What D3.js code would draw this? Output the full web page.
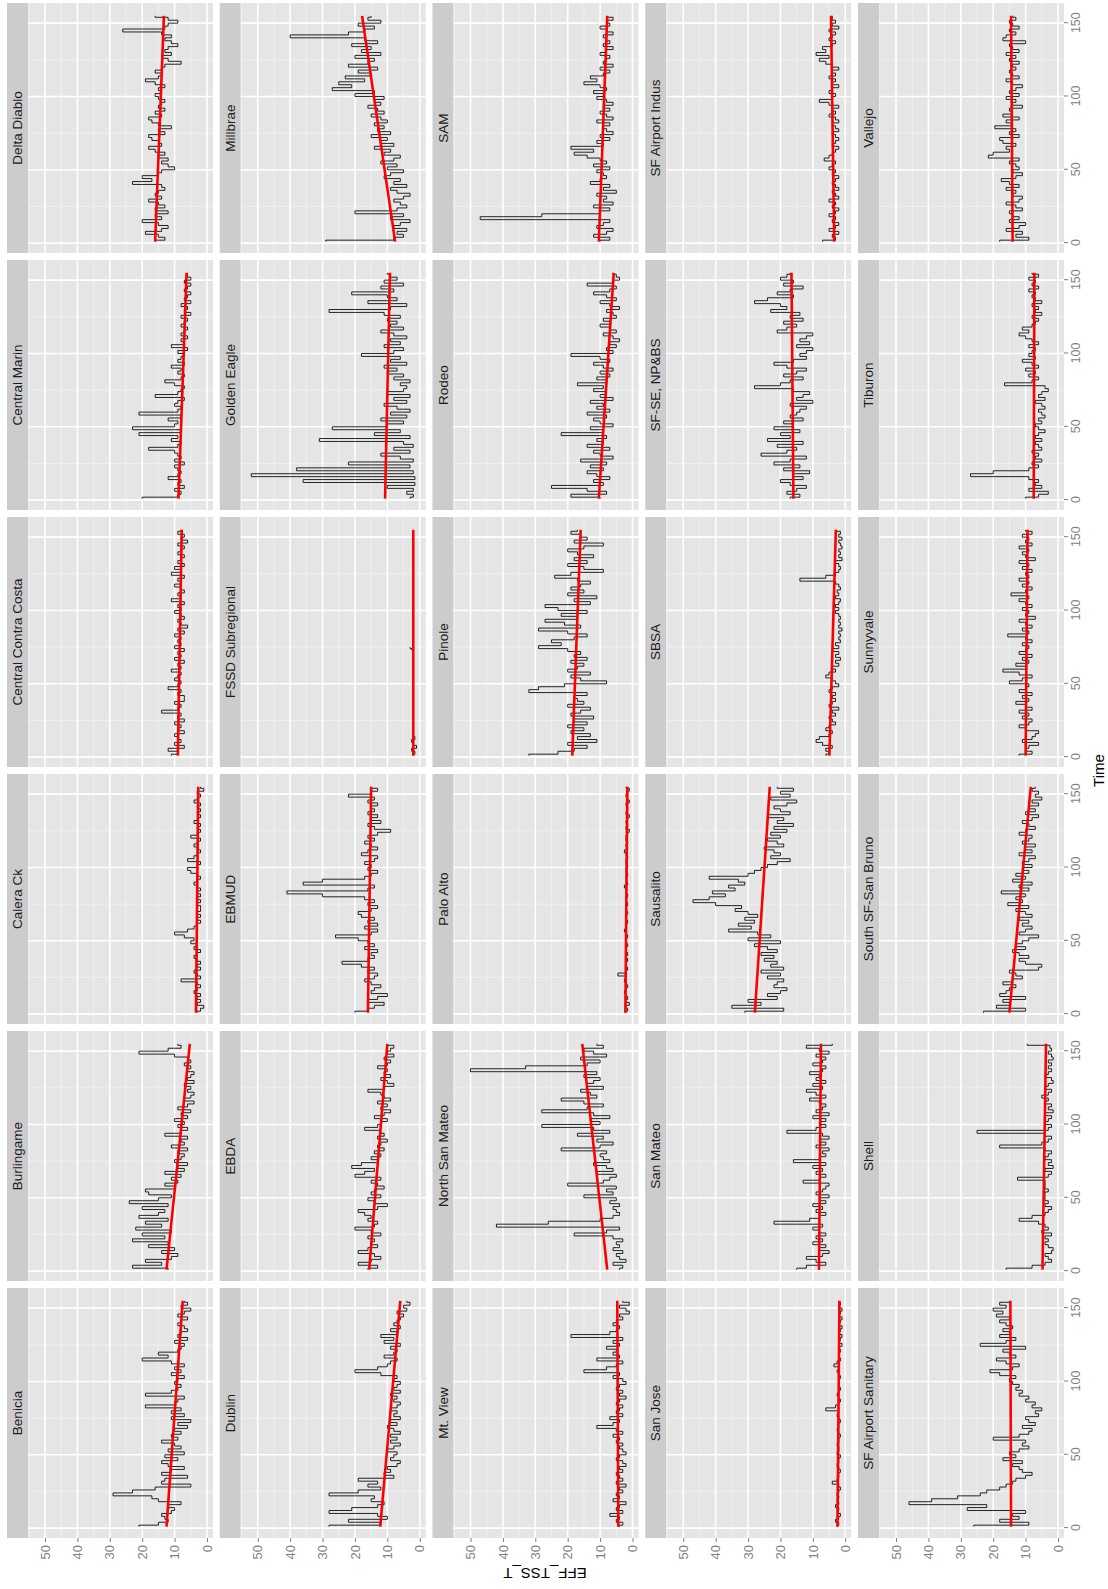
<!DOCTYPE html>
<html lang="en">

<head>
  <meta charset="UTF-8">
  <title>EFF_TSS_T over Time by plant</title>
  <script src="https://d3js.org/d3.v7.min.js"></script>
  <style>
    body {
      margin: 0;
      background: #fff;
      font-family: "Liberation Sans", Arial, sans-serif;
    }
  </style>
</head>

<body>
  <div id="chart"></div>

  <script>
    // facet names, in facet_wrap order (6 per row)
    const plants = ["Benicia", "Burlingame", "Calera Ck", "Central Contra Costa", "Central Marin", "Delta Diablo",
      "Dublin", "EBDA", "EBMUD", "FSSD Subregional", "Golden Eagle", "Millbrae",
      "Mt. View", "North San Mateo", "Palo Alto", "Pinole", "Rodeo", "SAM",
      "San Jose", "San Mateo", "Sausalito", "SBSA", "SF-SE, NP&BS", "SF Airport Indus",
      "SF Airport Sanitary", "Shell", "South SF-San Bruno", "Sunnyvale", "Tiburon", "Vallejo"];

    // sampling times, every second step from 1 to 155
    const times = d3.range(1, 156, 2);

    const xTicks = [0, 50, 100, 150];
    const yTicks = [0, 10, 20, 30, 40, 50];

    // EFF_TSS_T values
    const benicia = [21,15,12,13,14,11,10,12,8,15, 17,29,23,16,5,14,13,6,14,11, 7,12,14,9,13,7,12,8,10,14, 9,11,8,10,6,9,5,11,7,11,
      8,19,10,9,7,19,11,9,8,10, 9,7,11,8,10,7,11,20,12,15, 9,8,7,10,6,9,8,6,7,9, 8,6,9,7,5,8,6,7];
    const burlingame = [12,23,14,19,11,9,14,10,18,12, 23,13,20,11,22,14,19,12,21,15, 13,20,12,24,15,11,18,19,10,13, 9,11,8,13,7,9,6,10,8,7,
      9,6,11,7,8,6,13,8,6,9, 7,10,6,8,5,9,6,4,7,5, 4,6,5,7,4,6,5,4,6,5, 7,5,6,10,21,12,8,9];
    const caleraCk = [3,2,1,3,2,3,2,4,3,2, 3,8,2,3,4,2,3,2,3,4, 3,2,4,3,5,4,7,10,6,4, 3,2,3,2,3,2,2,3,2,3,
      2,3,2,3,4,3,2,3,5,6, 3,2,6,4,3,2,3,4,3,2, 5,3,2,3,2,4,3,2,3,2, 3,2,4,3,2,3,1,2];
    const centralContraCosta = [11,9,12,7,10,8,9,10,7,9, 8,10,7,9,8,14,9,8,10,7, 7,9,8,12,9,8,10,9,8,11, 8,9,7,10,8,9,7,10,8,9,
      8,10,7,9,6,8,9,7,8,10, 8,9,7,11,8,9,7,8,10,8, 9,7,11,8,10,7,9,8,7,9, 8,7,9,6,8,7,9,8];
    const centralMarin = [20,9,8,10,7,9,8,12,9,8, 9,10,7,10,8,9,10,18,9,8, 11,9,21,8,23,10,9,12,8,21, 9,8,10,9,7,16,9,8,7,10,
      13,8,7,9,8,11,7,9,8,7, 9,6,11,7,8,6,8,7,6,8, 7,6,8,5,7,6,8,5,7,6, 5,7,6,5,7,5,6,6];
    const deltaDiablo = [16,13,15,19,14,12,15,20,14,16, 12,16,13,15,18,14,16,15,13,14, 23,17,20,15,14,10,12,14,12,15, 13,16,18,14,15,17,18,13,15,11,
      15,17,18,14,16,13,15,14,13,15, 16,14,15,13,16,19,15,14,16,14, 13,8,12,14,11,13,12,9,11,13, 11,14,26,13,12,9,12,16];
    const dublin = [28,12,22,10,13,28,21,13,11,15, 14,28,19,12,16,13,19,8,11,9, 10,7,6,9,8,7,10,8,6,9, 7,9,6,8,10,7,9,6,8,7,
      9,7,6,8,7,9,6,8,7,6, 8,7,12,20,13,10,9,7,11,8, 7,9,6,11,8,12,7,9,6,8, 7,6,5,7,4,5,3,4];
    const ebda = [16,13,19,15,12,14,19,16,13,15, 14,16,12,15,20,14,13,16,15,17, 19,13,10,14,16,12,15,14,11,13, 15,12,20,17,14,21,18,13,15,12,
      14,11,13,12,10,13,11,12,17,13, 12,10,14,11,9,12,10,13,9,11, 12,16,11,8,10,12,9,11,10,13, 10,9,11,8,10,9,8,10];
    const ebmud = [20,16,14,11,16,13,10,15,14,12, 15,17,14,13,16,14,18,24,16,14, 15,13,17,14,16,19,26,15,13,17, 13,16,14,18,19,15,13,16,14,17,
      30,41,16,14,36,30,17,15,13,16, 15,17,14,13,18,16,13,15,17,14, 16,13,9,14,16,12,15,13,16,14, 15,13,16,14,22,15,13,15];
    const fssdSubregional = [2,1.5,2.5,1,2,2.5,1.5,2,null,null, null,null,null,null,null,null,null,null,null,null,
      null,null,null,null,null,null,null,null,null,null, null,null,null,null,null,null,2.5,3,null,null,
      null,null,null,null,null,null,null,null,null,null, null,null,null,null,null,null,null,null,null,null,
      null,null,null,null,null,null,null,null,null,null, null,null,null,null,null,null,null,null];
    const goldenEagle = [3,2,4,2,10,1.5,36,1.5,52,2, 38,3,22,2,6,12,3,8,2,5, 31,3,14,6,27,10,5,12,4,9, 3,7,11,4,8,3,10,5,4,6,
      3,8,5,10,7,11,4,9,6,18, 8,5,11,6,9,4,8,12,5,9, 7,10,6,11,28,9,4,16,7,10, 21,8,12,5,11,7,9,10];
    const millbrae = [29,8,5,7,4,8,6,3,9,5, 20,7,4,6,8,5,3,7,9,4, 8,6,11,9,5,10,7,12,8,6, 11,9,14,8,12,10,15,9,13,11,
      14,10,12,15,11,13,16,12,14,11, 20,14,27,21,25,17,23,15,19,13, 22,16,14,20,12,18,15,21,13,17, 40,22,17,14,19,12,16,15];
    const mtView = [4,3,5,4,7,3,5,4,2,6, 4,5,3,4,2,5,3,4,5,3, 4,2,3,5,4,2,3,4,3,5, 4,6,3,5,11,6,4,7,3,5,
      4,3,5,4,2,4,3,5,4,2, 3,6,4,15,8,5,3,11,4,6, 5,8,4,6,3,19,7,5,4,6, 5,3,4,1,2,4,1,3];
    const northSanMateo = [4,3,6,2,4,5,3,6,4,5, 3,6,18,8,4,42,26,10,6,4, 5,6,4,7,5,15,6,8,5,20, 9,7,5,11,6,8,12,7,9,10,
      8,22,10,6,11,9,17,7,12,28, 10,13,7,12,28,14,9,15,22,11, 13,16,9,14,12,10,15,11,50,33, 14,10,16,8,12,15,9,11];
    const paloAlto = [2,1.5,2,1,2,1.5,2,2.5,2,1.5, 2,2.5,2,4.5,2,1.5,2,2,1.5,2, 1.5,2,2,1.5,2,2,1.5,2,2.5,2, 2,1.5,2,2,1.5,2,2,1.5,2,2,
      1.5,2,2,2.5,1.5,2,2,1.5,2,2, 1.5,2,2,1.5,2,2.5,1.5,2,1.5,2, 2,1.5,1,2,1.5,2,1.5,1,2,1.5, 1.5,2,1,1.5,2,1.5,1,2];
    const pinole = [32,23,18,14,20,11,17,13,19,15, 20,14,18,12,19,16,13,20,15,17, 18,14,32,29,21,8,16,19,13,20, 17,15,19,14,18,16,20,29,22,25,
      18,14,20,29,16,21,27,17,22,14, 23,27,13,18,11,20,15,19,16,13, 17,24,19,9,15,20,14,18,12,17, 20,15,9,18,14,16,19,17];
    const rodeo = [10,19,8,14,25,9,12,7,11,14, 9,13,8,16,6,10,12,7,14,9, 11,8,22,9,13,6,10,12,8,14, 7,11,9,13,6,10,8,12,9,17,
      8,11,7,10,6,9,12,7,10,19, 6,8,5,7,4,6,9,5,7,10, 7,9,5,6,8,4,7,10,5,8, 12,7,5,14,6,4,5,6];
    const sam = [10,7,12,8,6,11,9,7,47,28, 10,7,12,6,9,8,11,5,9,7, 13,10,8,9,11,7,12,8,10,14, 18,12,19,9,11,7,10,6,8,9,
      7,11,6,8,10,7,9,6,8,11, 9,12,8,10,15,11,13,9,7,10, 6,9,8,7,10,8,6,9,7,8, 9,6,8,10,7,8,6,8];
    const sanJose = [2.5,2,3,2,1.5,2.5,2,3,2,2.5, 2,2.5,2,1.5,2,4,2.5,2,2,1.5, 2,2.5,2,2,1.5,2.5,2,2,2.5,2, 2,1.5,2,2.5,2,2,1.5,2,2.5,2,
      6,3,2,1.5,2,2.5,2,1.5,2,2, 2,1.5,2,2.5,2,3.5,2.5,1.5,2,2, 1.5,2,1,2,1.5,1,2,1.5,1,2, 1.5,1,2,1.5,1,2,1.5,2];
    const sanMateo = [15,12,6,9,12,7,5,8,6,10, 7,9,6,8,10,7,22,11,8,6, 9,7,10,6,8,5,9,7,6,5, 13,8,6,9,7,10,6,16,8,6,
      7,5,9,6,8,5,7,18,9,6, 8,6,10,5,9,7,6,8,11,6, 9,12,7,10,6,9,8,11,7,6, 10,7,6,9,5,8,12,4];
    const sausalito = [31,19,35,26,30,21,24,20,18,22, 21,19,24,20,26,19,23,21,25,22, 26,21,24,28,20,30,23,27,36,29, 33,28,31,27,30,34,32,40,47,42,
      37,41,34,36,31,33,42,30,28,26, 24,21,17,23,20,22,25,19,21,24, 20,23,18,22,16,21,19,24,17,20, 22,18,15,23,17,20,16,21];
    const sbsa = [6,5,6,4,7,9,8,5,4,6, 5,3,4,5,3,4,2,5,4,3, 4,3,5,4,2,3,4,6,5,3, 4,2,3,1.5,3,2,4,2,3,1.5,
      2,1.5,2,1,2,1.5,2,1.5,2,3, 2,3,2,1.5,3,2,2.5,1.5,2,3, 14,6,3,2,1.5,2,3,1,2,1.5, 2,1,1.5,2,1,2,1.5,3];
    const sfSeNpbs = [17,14,18,15,12,17,20,13,16,11, 19,14,22,17,12,26,18,15,21,13, 24,17,20,14,22,16,19,13,17,15, 14,12,17,10,15,13,11,16,28,20,
      17,13,19,15,12,18,22,16,12,14, 12,10,15,11,14,12,10,21,18,15, 19,13,17,14,23,18,20,28,24,16, 21,17,13,19,16,20,18,17];
    const sfAirportIndus = [7,3,4,2,5,3,2,4,3,5, 3,2,4,3,5,2,3,4,2,3, 4,3,2,4,3,5,4,3,6.5,5, 4,3,2,4,3,2,3,4,2,3,
      4,2,3,5,3,4,2,5,8,4, 3,5,4,2,4,3,5,3,4,2, 4,6,8,5,9,6,7,4,3,5, 4,3,5,2,4,3,4,4];
    const sfAirportSanitary = [26,9,18,12,14,10,28,22,46,39, 31,24,22,18,16,14,13,10,8,11, 12,14,11,17,13,15,12,9,11,10, 20,12,9,8,11,7,9,10,6,7,
      5,8,7,10,9,12,11,13,12,14, 15,13,18,21,14,12,16,19,13,15, 17,10,24,16,13,18,15,17,14,16, 18,15,19,17,20,16,18,15];
    const shell = [16,8,4,2,3,4,2,1.5,3,4, 3,4,2,5,3,4,6,12,8,4, 3,2,4,3,4,4,4,3,4,4, 4,12.5,3,2,4,1.5,3,2,4,3,
      2,4,18,5,3,2,4,25,3,2, 4,3,2,4,1.5,3,2,4,3,5, 3,2,4,3,1.5,2,4,3,2,3, 2,3,1.5,2,3,2,2.5,9.5];
    const southSfSanBruno = [23,10,19,15,17,10,18,16,15,13, 17,14,11,13,15,6,5,10,12,9, 12,14,10,13,11,9,6,12,10,8, 11,9,12,8,10,13,9,15.5,11,13,
      10,17.5,9,12,8,14,10,13,9,11, 8,11,9,7,12,8,10,7,11,9, 8,12,10,7,9,11,8,6,10,7, 9,6,8,5,7,6,8,7];
    const sunnyvale = [12,8,10,9,6,11,8,7,6,10, 12,9,8,11,9,12,8,10,13,9, 11,8,12,10,9,15,11,8,12,17, 10,13,9,11,8,12,10,9,11,8,
      10,15.5,9,11,8,10,12,7,10,9, 11,8,10,12,9,14.5,10,8,11,9, 12,9,10,8,11,9,12,7,10,11, 9,12,8,10,9,11,8,10];
    const tiburon = [10,6,3,9,5,7,6,9,27,20, 9,6,8,5,7,6,8,5,6,7, 5,7,6,4,6,7,5,6,4,5, 6,4,5,7,4,6,5,3,4,16.5,
      8,6,9,7,10,6,8,11,7,9, 8,7,9,6,8,10,12,9,11,8, 7,6,8,5,7,6,8,5,7,8, 7,9,6,8,7,9,6,8];
    const vallejo = [18,9,13,11,16,12,10,15,12,14, 15,11,13,16,12,11,14,13,16,12, 15,17.5,13,11,14,12,13,15,12,21.5, 20,15,16,13,17,18,12,15,13,19.5,
      14,16,12,17,14,15,11,14,13,16, 12,15,13,11,14,16,12,14,15,13, 14,12,15,13,16,12,14,15,10,17, 16,13,15,12,14,15,13,14];

    // linear trend (red line), value at the first and last time
    const trendStart = [12.5, 12.5, 3.4, 9, 8.8, 16, 12.2, 15.6, 16, 2, 10.7, 7.6, 4.4, 7.8, 2.2,
      18.6, 10.4, 10.4, 2.4, 8.1, 27.9, 4.9, 16, 3.4, 14.5, 4.8, 15, 10, 7.5, 14];
    const trendEnd = [7.5, 5.3, 2.7, 7.8, 6.3, 13.3, 6, 10, 15, 2, 9.2, 17.8, 4.7, 15.5, 1.6,
      16, 5.8, 7.8, 1.8, 7.5, 23.3, 2.9, 16.6, 4.4, 14.7, 3.7, 8.4, 9.4, 7.3, 14.5];

    const series = [benicia, burlingame, caleraCk, centralContraCosta, centralMarin, deltaDiablo,
      dublin, ebda, ebmud, fssdSubregional, goldenEagle, millbrae,
      mtView, northSanMateo, paloAlto, pinole, rodeo, sam,
      sanJose, sanMateo, sausalito, sbsa, sfSeNpbs, sfAirportIndus,
      sfAirportSanitary, shell, southSfSanBruno, sunnyvale, tiburon, vallejo];

    const width = 1108, height = 1589;

    const svg = d3.select("#chart").append("svg")
      .attr("width", width)
      .attr("height", height);

    svg.append("rect").attr("width", width).attr("height", height).attr("fill", "#fff");

    // the plot is laid out landscape (1589 x 1108) and turned a quarter to the left
    const g = svg.append("g").attr("transform", `translate(0,${height}) rotate(-90)`);

    const ncol = 6;
    const panelW = 250, panelH = 185, stripH = 21;
    const colX = c => 51 + c * 257;
    const rowY = r => 7 + r * 212.75;

    const tMin = d3.min(times), tMax = 156;
    const pad = (tMax - tMin) * 0.05;
    const x = d3.scaleLinear().domain([tMin - pad, tMax + pad]).range([0, panelW]);
    const y = d3.scaleLinear().domain([-1.85, 55.25]).range([panelH, 0]);

    const xMinor = [25, 75, 125];
    const yMinor = [5, 15, 25, 35, 45, 55];

    const line = d3.line()
      .defined(d => d.v != null)
      .curve(d3.curveStep)
      .x(d => x(d.t))
      .y(d => y(d.v));

    plants.forEach((name, i) => {
      const r = Math.floor(i / ncol), c = i % ncol;
      const px = colX(c), py = rowY(r) + stripH;

      // strip
      g.append("rect")
        .attr("x", px).attr("y", rowY(r))
        .attr("width", panelW).attr("height", stripH)
        .attr("fill", "#cccccc");
      g.append("text")
        .attr("x", px + panelW / 2).attr("y", rowY(r) + stripH / 2)
        .attr("text-anchor", "middle")
        .attr("dominant-baseline", "central")
        .attr("font-size", "13.5px")
        .attr("fill", "#1a1a1a")
        .text(name);

      const p = g.append("g").attr("transform", `translate(${px},${py})`);
      p.append("rect").attr("width", panelW).attr("height", panelH).attr("fill", "#e5e5e5");

      p.selectAll(".gx-minor").data(xMinor).join("line")
        .attr("x1", d => x(d)).attr("x2", d => x(d))
        .attr("y1", 0).attr("y2", panelH)
        .attr("stroke", "#f2f2f2").attr("stroke-width", 0.8);
      p.selectAll(".gy-minor").data(yMinor).join("line")
        .attr("y1", d => y(d)).attr("y2", d => y(d))
        .attr("x1", 0).attr("x2", panelW)
        .attr("stroke", "#f2f2f2").attr("stroke-width", 0.8);
      p.selectAll(".gx").data(xTicks).join("line")
        .attr("x1", d => x(d)).attr("x2", d => x(d))
        .attr("y1", 0).attr("y2", panelH)
        .attr("stroke", "#fff").attr("stroke-width", 1.6);
      p.selectAll(".gy").data(yTicks).join("line")
        .attr("y1", d => y(d)).attr("y2", d => y(d))
        .attr("x1", 0).attr("x2", panelW)
        .attr("stroke", "#fff").attr("stroke-width", 1.6);

      const pts = series[i].map((v, j) => ({ t: times[j], v: v }));
      p.append("path")
        .datum(pts)
        .attr("d", line)
        .attr("fill", "none")
        .attr("stroke", "#000")
        .attr("stroke-width", 0.85)
        .attr("stroke-linejoin", "round");

      p.append("line")
        .attr("x1", x(times[0])).attr("y1", y(trendStart[i]))
        .attr("x2", x(times[times.length - 1])).attr("y2", y(trendEnd[i]))
        .attr("stroke", "#ff0000")
        .attr("stroke-width", 2.6);

      // y axis on the first facet column
      if (c === 0) {
        const ay = g.append("g")
          .attr("transform", `translate(${px},${py})`)
          .call(d3.axisLeft(y).tickValues(yTicks).tickSize(4).tickPadding(3));
        ay.select(".domain").remove();
        ay.selectAll("line").attr("stroke", "#7f7f7f");
        ay.selectAll("text")
          .attr("fill", "#7f7f7f")
          .attr("font-size", "13px")
          .attr("font-family", "Liberation Sans, Arial, sans-serif");
      }

      // time axis on the last facet row
      if (r === Math.floor((plants.length - 1) / ncol)) {
        const ax = g.append("g")
          .attr("transform", `translate(${px},${py + panelH})`)
          .call(d3.axisBottom(x).tickValues(xTicks).tickSize(4).tickPadding(3));
        ax.select(".domain").remove();
        ax.selectAll("line").attr("stroke", "#7f7f7f");
        ax.selectAll("text")
          .attr("fill", "#7f7f7f")
          .attr("font-size", "12.5px")
          .attr("font-family", "Liberation Sans, Arial, sans-serif");
      }
    });

    // axis titles
    g.append("text")
      .attr("x", (colX(0) + colX(ncol - 1) + panelW) / 2)
      .attr("y", 1098)
      .attr("text-anchor", "middle")
      .attr("dominant-baseline", "central")
      .attr("font-size", "15px")
      .attr("fill", "#000")
      .text("Time");

    g.append("text")
      .attr("transform", "translate(16,545) rotate(-90)")
      .attr("text-anchor", "middle")
      .attr("dominant-baseline", "central")
      .attr("font-size", "15px")
      .attr("fill", "#000")
      .text("EFF_TSS_T");
  </script>
</body>

</html>
